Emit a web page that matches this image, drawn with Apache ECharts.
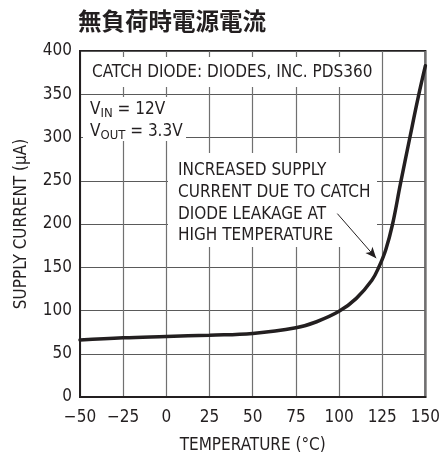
<!DOCTYPE html>
<html>
<head>
<meta charset="utf-8">
<script src="https://cdn.jsdelivr.net/npm/echarts@6/dist/echarts.min.js"></script>
<style>
  html, body { margin: 0; padding: 0; background: #fff; }
  #chart { width: 443px; height: 459px; }
</style>
</head>
<body>
<div id="chart"></div>
<script>
// Supply current vs. temperature (no load)
const temperature   = [-50, -25, 0, 25, 50, 75, 87, 100, 110, 119, 123, 127, 131, 135.5, 141, 146, 150];
const supplyCurrent = [66, 68.5, 70, 71.5, 73.5, 80, 87, 99, 114, 135, 150, 170, 200, 246, 300, 348, 383];

const xTicks = [-50, -25, 0, 25, 50, 75, 100, 125, 150];
const xTickLabels = ['\u221250', '\u221225', '0', '25', '50', '75', '100', '125', '150'];
const yTicks = [0, 50, 100, 150, 200, 250, 300, 350, 400];
const yTickLabels = ['0', '50', '100', '150', '200', '250', '300', '350', '400'];

// Callout arrow: from the note text to the knee of the curve
const arrowFrom = [99, 212];
const arrowTo = [121.5, 160.5];

const INK = '#231f20';
const FONT = '"Liberation Sans Narrow", "DejaVu Sans Condensed", "Arial Narrow", sans-serif';
const FS = 17;

const chart = echarts.init(document.getElementById('chart'), null, { renderer: 'canvas' });

chart.setOption({
  animation: false,
  backgroundColor: '#ffffff',
  title: {
    text: '無負荷時電源電流',
    left: 78,
    top: 9,
    padding: 0,
    textStyle: {
      fontFamily: '"Noto Sans CJK JP", "Noto Sans CJK SC", sans-serif',
      fontSize: 23.5,
      fontWeight: 'bold',
      color: INK
    }
  },
  grid: {
    left: 80, right: 11, top: 51, bottom: 57,
    show: true,
    borderColor: INK,
    borderWidth: 2,
    backgroundColor: 'transparent'
  },
  xAxis: {
    type: 'value',
    min: xTicks[0],
    max: xTicks[xTicks.length - 1],
    interval: 25,
    name: 'TEMPERATURE (°C)',
    nameLocation: 'middle',
    nameGap: 40,
    nameTextStyle: { fontFamily: FONT, fontSize: FS, color: INK },
    axisLine: { show: true, onZero: false, lineStyle: { color: INK, width: 2 } },
    axisTick: { show: false },
    axisLabel: {
      margin: 12,
      fontFamily: FONT, fontSize: FS, color: INK,
      formatter: v => xTickLabels[xTicks.indexOf(v)]
    },
    splitLine: { show: true, lineStyle: { color: '#707070', width: 1.2 } }
  },
  yAxis: {
    type: 'value',
    min: yTicks[0],
    max: yTicks[yTicks.length - 1],
    interval: 50,
    name: 'SUPPLY CURRENT (µA)',
    nameLocation: 'middle',
    nameGap: 50,
    nameTextStyle: { fontFamily: FONT, fontSize: FS, color: INK },
    axisLine: { show: true, onZero: false, lineStyle: { color: INK, width: 2 } },
    axisTick: { show: false },
    axisLabel: {
      margin: 8,
      fontFamily: FONT, fontSize: FS, color: INK,
      formatter: v => yTickLabels[yTicks.indexOf(v)]
    },
    splitLine: { show: true, lineStyle: { color: '#5a5a5a', width: 1.2 } }
  },
  series: [{
    type: 'line',
    z: 3,
    data: temperature.map((t, i) => [t, supplyCurrent[i]]),
    smooth: 0.4,
    symbol: 'none',
    lineStyle: { color: INK, width: 3.5, cap: 'round' },
    markLine: {
      silent: true,
      z: 3,
      symbol: ['none', 'arrow'],
      symbolSize: [7, 11],
      label: { show: false },
      lineStyle: { color: INK, width: 1, type: 'solid' },
      data: [[{ coord: arrowFrom }, { coord: arrowTo }]]
    }
  }],
  graphic: [
    // note: part number
    { type: 'rect', z: 1, shape: { x: 82, y: 57, width: 294, height: 30 }, style: { fill: '#fff' } },
    { type: 'text', z: 2, x: 92, y: 73,
      style: { text: 'CATCH DIODE: DIODES, INC. PDS360', font: FS + 'px ' + FONT, fill: INK, verticalAlign: 'middle' } },
    // note: operating conditions
    { type: 'rect', z: 1, shape: { x: 83, y: 97, width: 103, height: 44 }, style: { fill: '#fff' } },
    { type: 'text', z: 2, x: 90, y: 99,
      style: {
        text: '{m|V}{s|IN}{m| = 12V}\n{m|V}{s|OUT}{m| = 3.3V}',
        fill: INK,
        verticalAlign: 'top',
        rich: {
          m: { fontFamily: FONT, fontSize: FS, lineHeight: 22, fill: INK },
          s: { fontFamily: FONT, fontSize: 13, lineHeight: 13, padding: [8, 0, 0, 0], fill: INK }
        }
      } },
    // note: leakage explanation
    { type: 'rect', z: 1, shape: { x: 168, y: 153, width: 209, height: 94 }, style: { fill: '#fff' } },
    { type: 'text', z: 2, x: 178, y: 160,
      style: {
        text: 'INCREASED SUPPLY\nCURRENT DUE TO CATCH\nDIODE LEAKAGE AT\nHIGH TEMPERATURE',
        font: FS + 'px ' + FONT, lineHeight: 21.7, fill: INK, verticalAlign: 'top'
      } }
  ]
});
</script>
</body>
</html>
